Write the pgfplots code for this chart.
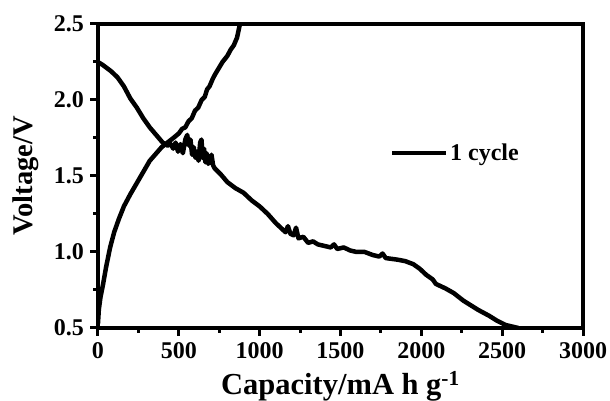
\documentclass[border=0pt]{standalone}
\usepackage{fontspec}
\setmainfont{Liberation Serif}
\usepackage{pgfplots}
\pgfplotsset{compat=1.18}

% First-cycle discharge branch (capacity in mA h/g, voltage in V)
\pgfplotstableread{
x y
0 2.25
30 2.23
80 2.19
120 2.15
160 2.09
200 2.01
240 1.95
280 1.88
320 1.82
360 1.77
400 1.72
430 1.70
450 1.71
465 1.68
480 1.72
495 1.66
510 1.71
525 1.65
540 1.74
552 1.77
562 1.70
572 1.74
582 1.64
592 1.69
602 1.62
612 1.66
622 1.60
632 1.72
640 1.74
648 1.62
656 1.68
664 1.59
672 1.65
682 1.58
692 1.60
702 1.64
712 1.57
722 1.55
760 1.51
800 1.46
850 1.42
900 1.39
950 1.34
1000 1.30
1050 1.25
1100 1.19
1140 1.15
1160 1.13
1175 1.17
1190 1.12
1210 1.11
1225 1.16
1240 1.09
1270 1.10
1300 1.06
1330 1.07
1360 1.05
1400 1.04
1440 1.03
1460 1.05
1480 1.02
1520 1.03
1560 1.01
1600 1.00
1650 1.00
1700 0.98
1740 0.97
1760 0.99
1780 0.96
1850 0.95
1900 0.94
1950 0.92
1990 0.89
2030 0.85
2070 0.82
2090 0.79
2150 0.76
2200 0.73
2260 0.68
2350 0.62
2420 0.58
2465 0.55
2520 0.52
2560 0.51
2600 0.50
}\discharge

% First-cycle charge branch
\pgfplotstableread{
x y
0 0.53
5 0.62
15 0.70
30 0.78
50 0.90
75 1.03
100 1.13
130 1.22
160 1.30
200 1.38
260 1.49
320 1.60
394 1.69
466 1.75
500 1.78
520 1.81
540 1.82
560 1.86
580 1.88
600 1.93
620 1.95
641 2.00
660 2.02
675 2.07
690 2.09
710 2.14
725 2.17
742 2.20
770 2.25
800 2.29
820 2.33
840 2.36
860 2.41
878 2.50
}\charge

\begin{document}
\begin{tikzpicture}
\begin{axis}[
  scale only axis,
  width=485pt, height=304pt,
  xmin=0, xmax=3000, ymin=0.5, ymax=2.5,
  xtick={0,500,...,3000},
  ytick={0.5,1.0,...,2.5},
  minor x tick num=1,
  minor y tick num=1,
  tick align=outside,
  xtick pos=bottom, ytick pos=left,
  axis line style={line width=4pt},
  major tick length=7.5pt,
  minor tick length=4.5pt,
  major tick style={black, line width=3pt},
  minor tick style={black, line width=3pt},
  /pgf/number format/assume math mode=true,
  xticklabel style={/pgf/number format/1000 sep={}, yshift=-4pt},
  yticklabel style={/pgf/number format/fixed, /pgf/number format/fixed zerofill,
    /pgf/number format/precision=1, xshift=-3pt},
  tick label style={font=\fontsize{24}{24}\selectfont\bfseries},
  xlabel={Capacity/mA h g\textsuperscript{-1}},
  ylabel={Voltage/V},
  xlabel style={font=\fontsize{30.5}{30.5}\selectfont\bfseries,
    at={(axis description cs:0.5,-0.22)}, anchor=base},
  ylabel style={font=\fontsize{28.5}{28.5}\selectfont\bfseries,
    at={(axis description cs:-0.115,0.5)}, anchor=south},
  legend style={draw=none, fill=none, at={(0.602,0.576)}, anchor=west,
    inner sep=0pt, font=\fontsize{24}{24}\selectfont\bfseries},
  legend cell align=left,
  legend image code/.code={\draw[line width=4pt] (0pt,0pt) -- (54pt,0pt);},
]
\addplot[black, line width=4.5pt, line join=round] table {\discharge};
\addlegendentry{1 cycle}
\addplot[black, line width=4.5pt, line join=round, forget plot] table {\charge};
\end{axis}
\pgfresetboundingbox
\path (-98pt,-73pt) rectangle (512pt,328pt);
\end{tikzpicture}
\end{document}
